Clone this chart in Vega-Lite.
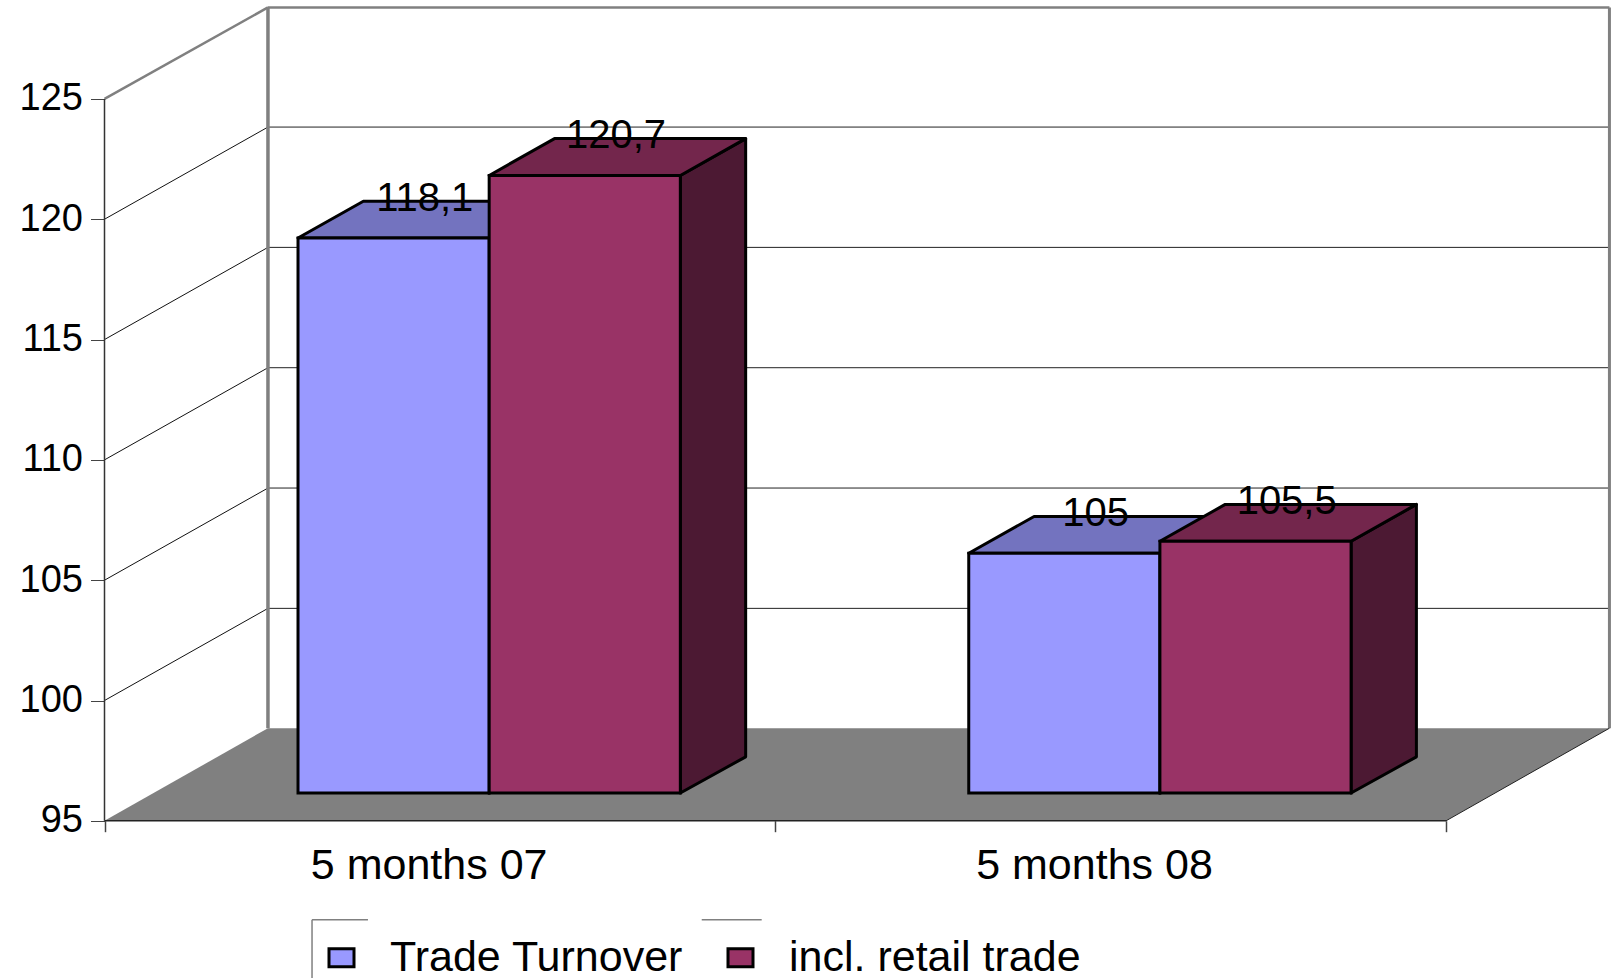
{
"$schema":"https://vega.github.io/schema/vega-lite/v6.json",
"width":1614,"height":979,"padding":0,
"autosize":{"type":"fit","contains":"padding"},
"background":"white",
"config":{"view":{"stroke":null},"font":"Liberation Sans"},
"datasets":{
 "levels":[{"level":95},{"level":100},{"level":105},{"level":110},{"level":115},{"level":120},{"level":125}],
 "floor":[{"depth":0},{"depth":1}]
},
"data":{"values":[
 {"category":"5 months 07","series":"Trade Turnover","value":118.1},
 {"category":"5 months 07","series":"incl. retail trade","value":120.7},
 {"category":"5 months 08","series":"Trade Turnover","value":105},
 {"category":"5 months 08","series":"incl. retail trade","value":105.5}
]},
"transform":[
 {"calculate":"indexof(['5 months 07','5 months 08'],datum.category)","as":"ci"},
 {"calculate":"indexof(['Trade Turnover','incl. retail trade'],datum.series)","as":"si"},
 {"calculate":"datum.ci+0.2885+datum.si*0.285","as":"x0"},
 {"calculate":"datum.x0+0.285","as":"x1"},
 {"calculate":"datum.value+1.12","as":"top"},
 {"calculate":"replace(toString(datum.value),'.',',')","as":"label"},
 {"calculate":"datum.x0+0.189","as":"lx"},
 {"calculate":"datum.top+1.14","as":"ly"},
 {"calculate":"datum.ci*0.992+0.484","as":"cx"},
 {"calculate":"[0,1]","as":"d"},
 {"flatten":["d"]},
 {"calculate":"datum.x0+datum.d*0.0974","as":"tx0"},
 {"calculate":"datum.x1+datum.d*0.0974","as":"tx1"},
 {"calculate":"datum.top+datum.d*1.53","as":"ty"},
 {"calculate":"96.16+datum.d*1.5","as":"by"}
],
"resolve":{"scale":{"fill":"independent"}},
"layer":[
 {"data":{"name":"levels"},
  "transform":[{"filter":"datum.level>95 && datum.level<125"},{"calculate":"datum.level+3.83","as":"back"}],
  "mark":{"type":"rule","color":"#222222","strokeWidth":1},
  "encoding":{
   "x":{"datum":0.2437,"type":"quantitative","title":null,"scale":{"domain":[-0.1558,2.2505],"nice":false,"zero":false},
     "axis":{"values":[0,1,2],"orient":"bottom","offset":-157.3,"domain":false,"grid":false,"labels":false,"tickSize":11,"tickColor":"#444444","tickWidth":1.5,"title":null}},
   "x2":{"datum":2.2437},
   "y":{"field":"back","type":"quantitative","title":null,"scale":{"domain":[88.47,129.11],"nice":false,"zero":false},
     "axis":{"values":[95,100,105,110,115,120,125],"orient":"left","offset":-104.5,"domain":false,"grid":false,"tickSize":14,"tickColor":"#444444","tickWidth":1,"labelFont":"Liberation Sans","labelFontSize":38,"labelColor":"black","labelPadding":8,"title":null}}
  }},
 {"data":{"name":"levels"},
  "transform":[{"filter":"datum.level>95 && datum.level<125"},{"calculate":"datum.level+3.83","as":"back"}],
  "mark":{"type":"rule","color":"#111111","strokeWidth":1},
  "encoding":{"x":{"datum":0,"type":"quantitative"},"x2":{"datum":0.2437},"y":{"field":"level","type":"quantitative"},"y2":{"field":"back"}}},
 {"data":{"name":"floor"},
  "transform":[{"calculate":"datum.depth*0.2437","as":"xa"},{"calculate":"2+datum.depth*0.2437","as":"xb"},{"calculate":"95+datum.depth*3.85","as":"yy"}],
  "mark":{"type":"area","orient":"horizontal","color":"#808080"},
  "encoding":{"y":{"field":"yy","type":"quantitative"},"x":{"field":"xa","type":"quantitative"},"x2":{"field":"xb"}}},
 {"data":{"values":[{}]},"mark":{"type":"rule","color":"#808080","strokeWidth":3.5},
  "encoding":{"x":{"datum":0.2437,"type":"quantitative"},"y":{"datum":98.85,"type":"quantitative"},"y2":{"datum":128.8}}},
 {"data":{"values":[{}]},"mark":{"type":"rule","color":"#808080","strokeWidth":3},
  "encoding":{"x":{"datum":2.2437,"type":"quantitative"},"y":{"datum":98.85,"type":"quantitative"},"y2":{"datum":128.8}}},
 {"data":{"values":[{}]},"mark":{"type":"rule","color":"#808080","strokeWidth":2.5},
  "encoding":{"x":{"datum":0.2437,"type":"quantitative"},"x2":{"datum":2.2437},"y":{"datum":128.8,"type":"quantitative"}}},
 {"data":{"values":[{}]},"mark":{"type":"rule","color":"#808080","strokeWidth":2.5},
  "encoding":{"x":{"datum":0,"type":"quantitative"},"x2":{"datum":0.2437},"y":{"datum":125,"type":"quantitative"},"y2":{"datum":128.8}}},
 {"data":{"values":[{}]},"mark":{"type":"rule","color":"#333333","strokeWidth":1.5},
  "encoding":{"x":{"datum":0,"type":"quantitative"},"y":{"datum":95,"type":"quantitative"},"y2":{"datum":125}}},
 {"data":{"values":[{}]},"mark":{"type":"rule","color":"#222222","strokeWidth":1.5},
  "encoding":{"x":{"datum":0,"type":"quantitative"},"x2":{"datum":2},"y":{"datum":95,"type":"quantitative"}}},
 {"data":{"values":[{}]},"mark":{"type":"rule","color":"#222222","strokeWidth":1},
  "encoding":{"x":{"datum":2,"type":"quantitative"},"x2":{"datum":2.2437},"y":{"datum":95,"type":"quantitative"},"y2":{"datum":98.85}}},
 {"mark":{"type":"area","stroke":"black","strokeWidth":3,"strokeJoin":"round","opacity":1},
  "encoding":{
   "x":{"field":"tx1","type":"quantitative"},
   "y":{"field":"ty","type":"quantitative"},"y2":{"field":"by"},
   "detail":{"field":"category"},
   "fill":{"field":"series","type":"nominal","legend":null,"scale":{"domain":["Trade Turnover","incl. retail trade"],"range":["#4C4C80","#4C1933"]}}}},
 {"mark":{"type":"area","orient":"horizontal","stroke":"black","strokeWidth":3,"strokeJoin":"round","opacity":1},
  "encoding":{
   "y":{"field":"ty","type":"quantitative"},
   "x":{"field":"tx0","type":"quantitative"},"x2":{"field":"tx1"},
   "detail":{"field":"category"},
   "fill":{"field":"series","type":"nominal","legend":null,"scale":{"domain":["Trade Turnover","incl. retail trade"],"range":["#7373BF","#73264C"]}}}},
 {"transform":[{"filter":"datum.d===0"}],
  "mark":{"type":"rect","stroke":"black","strokeWidth":3,"opacity":1},
  "encoding":{
   "x":{"field":"x0","type":"quantitative"},"x2":{"field":"x1"},
   "y":{"field":"by","type":"quantitative"},"y2":{"field":"top"},
   "fill":{"field":"series","type":"nominal","scale":{"domain":["Trade Turnover","incl. retail trade"],"range":["#9999FF","#993366"]},
    "legend":{"title":null,"orient":"none","legendX":320,"legendY":936,"direction":"horizontal","columns":2,"symbolType":"M-1,-0.72H1V0.72H-1Z","symbolSize":625,"symbolStrokeColor":"black","symbolStrokeWidth":3,"symbolOpacity":1,"labelFont":"Liberation Sans","labelFontSize":43,"labelColor":"black","labelOffset":27,"columnPadding":35,"labelLimit":400,"padding":0}}}},
 {"transform":[{"filter":"datum.d===0"}],
  "mark":{"type":"text","font":"Liberation Sans","fontSize":40,"color":"black","baseline":"alphabetic","align":"center"},
  "encoding":{"x":{"field":"lx","type":"quantitative"},"y":{"field":"ly","type":"quantitative"},"text":{"field":"label"}}},
 {"transform":[{"filter":"datum.d===0 && datum.si===0"}],
  "mark":{"type":"text","font":"Liberation Sans","fontSize":43,"color":"black","baseline":"alphabetic","align":"center"},
  "encoding":{"x":{"field":"cx","type":"quantitative"},"y":{"datum":92.58,"type":"quantitative"},"text":{"field":"category"}}},
 {"data":{"values":[{}]},"mark":{"type":"rule","color":"#808080","strokeWidth":1.5},
  "encoding":{"x":{"datum":0.3094,"type":"quantitative"},"y":{"datum":90.89,"type":"quantitative"},"y2":{"datum":88.47}}},
 {"data":{"values":[{}]},"mark":{"type":"rule","color":"#808080","strokeWidth":1.5},
  "encoding":{"x":{"datum":0.3094,"type":"quantitative"},"x2":{"datum":0.3928},"y":{"datum":90.89,"type":"quantitative"}}},
 {"data":{"values":[{}]},"mark":{"type":"rule","color":"#808080","strokeWidth":1.5},
  "encoding":{"x":{"datum":0.8904,"type":"quantitative"},"x2":{"datum":0.9798},"y":{"datum":90.89,"type":"quantitative"}}}
]
}
